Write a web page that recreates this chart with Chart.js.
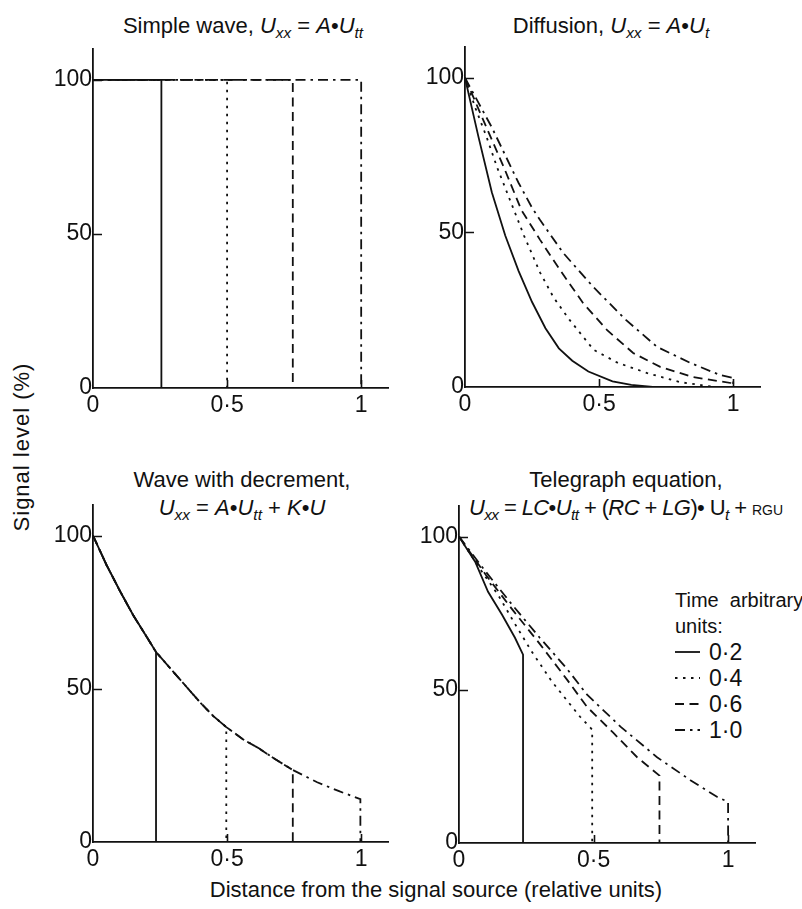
<!DOCTYPE html>
<html>
<head>
<meta charset="utf-8">
<script src="https://cdn.jsdelivr.net/npm/chart.js@4.4.1/dist/chart.umd.min.js"></script>
<style>
  body { margin: 0; background: #fff; }
  #page { position: relative; width: 802px; height: 909px; overflow: hidden;
          font-family: "Liberation Sans", Arial, sans-serif; color: #111; }
  #page canvas { position: absolute; }
  .txt { position: absolute; font-size: 22px; line-height: 28px; white-space: nowrap; }
  .ctr { transform: translateX(-50%); text-align: center; }
  .txt sub { font-size: 70%; vertical-align: -0.32em; line-height: 0; }
  .tight { letter-spacing: -0.6px; }
  .sc { font-size: 14px; letter-spacing: 0; }
  #ylab { left: 22px; top: 447px; transform: translate(-50%, -50%) rotate(-90deg); letter-spacing: 1px; }
  #legend { left: 675px; top: 587px; font-size: 20px; line-height: 26px; }
  #legend .row { display: flex; align-items: center; }
  #legend .num { font-size: 23px; margin-left: 9px; }
</style>
</head>
<body>
<div id="page">
  <div class="txt ctr" style="left:243px; top:12px;">Simple wave, <i>U<sub>xx</sub></i> = <i>A</i>•<i>U<sub>tt</sub></i></div>
  <div class="txt ctr" style="left:611px; top:12px;">Diffusion, <i>U<sub>xx</sub></i> = <i>A</i>•<i>U<sub>t</sub></i></div>
  <div class="txt ctr" style="left:242px; top:466px;">Wave with decrement,<br><i>U<sub>xx</sub></i> = <i>A</i>•<i>U<sub>tt</sub></i> + <i>K</i>•<i>U</i></div>
  <div class="txt ctr" style="left:626px; top:466px;">Telegraph equation,<br><span class="tight"><i>U<sub>xx</sub></i> = <i>LC</i>•<i>U<sub>tt</sub></i> + (<i>RC</i> + <i>LG</i>)• U<sub><i>t</i></sub> + <span class="sc">RGU</span></span></div>
  <div class="txt" id="ylab">Signal level (%)</div>
  <div class="txt ctr" style="left:436px; top:876px;">Distance from the signal source (relative units)</div>
  <div class="txt" id="legend"></div>
</div>
<script>
// ---------- data ----------
const xTicks = [0, 0.5, 1];
const xTickLabels = ['0', '0·5', '1'];
const yTicks = [0, 50, 100];
const timeLabels = ['0·2', '0·4', '0·6', '1·0'];

// simple wave: flat front at 100 %, then a vertical drop
const waveLevel = 100;
const waveFront = [0.255, 0.5, 0.745, 1.0];

// diffusion
const diffX02 = [0, 0.05, 0.1, 0.15, 0.2, 0.25, 0.3, 0.35, 0.4, 0.46, 0.55, 0.62, 0.7];
const diffY02 = [100, 81, 63, 49, 37.5, 27.5, 19, 12.5, 8.5, 5, 1.8, 0.7, 0];
const diffX04 = [0, 0.04, 0.08, 0.12, 0.17, 0.22, 0.28, 0.33, 0.39, 0.48, 0.57, 0.68, 0.8, 0.93];
const diffY04 = [100, 90, 81, 71, 60, 49, 37, 29, 21.7, 12, 7.8, 4.5, 1.6, 0];
const diffX06 = [0, 0.05, 0.1, 0.15, 0.21, 0.28, 0.354, 0.44, 0.53, 0.627, 0.728, 0.85, 0.99, 1.0];
const diffY06 = [100, 90, 80, 70, 57.3, 47.6, 37.9, 27.2, 18.4, 11, 6.5, 3.2, 1.3, 0];
const diffX10 = [0, 0.05, 0.1, 0.15, 0.2, 0.25, 0.28, 0.366, 0.478, 0.6, 0.716, 0.84, 0.95, 1.0, 1.0];
const diffY10 = [100, 92, 84, 75, 66, 58, 54, 43.4, 32.4, 21.7, 13, 7.8, 3.9, 2.9, 0];

// wave with decrement: one shared envelope, each time stops at its front
const decX = [0, 0.05, 0.1, 0.15, 0.2, 0.235, 0.28, 0.325, 0.4, 0.45, 0.497, 0.56, 0.62, 0.68, 0.745, 0.836, 0.92, 0.997];
const decY = [100, 90.5, 82, 74, 67, 62, 57.5, 53, 45.5, 41, 37.5, 33.5, 30.5, 27, 23.5, 19.5, 16.5, 14];
const decFront = [0.235, 0.497, 0.745, 0.997];

// telegraph equation
const telX02 = [0, 0.06, 0.108, 0.16, 0.208, 0.238, 0.238];
const telY02 = [100, 91.8, 82, 74.5, 67, 61.5, 0];
const telX04 = [0, 0.07, 0.145, 0.208, 0.27, 0.346, 0.45, 0.495, 0.495];
const telY04 = [100, 90.5, 81, 71.5, 62.5, 52.6, 41.2, 37, 0];
const telX06 = [0, 0.1, 0.2, 0.3, 0.4, 0.475, 0.573, 0.662, 0.745, 0.745];
const telY06 = [100, 87.5, 76, 65, 53.5, 44.5, 36, 28, 22, 0];
const telX10 = [0, 0.1, 0.2, 0.3, 0.4, 0.475, 0.6, 0.736, 0.86, 0.96, 1.0, 1.0];
const telY10 = [100, 88.5, 77.5, 67, 57, 48.5, 38, 28, 20.5, 15, 13.4, 0];

// ---------- styling ----------
const INK = '#111';
const X_MAX = 1.1, Y_MAX = 110;
const dashes = [[], [2.5, 5.5], [9, 5.5], [10, 5, 2.5, 5]];
const LINE_W = 1.8;
const Y_W = 80, PAD_T = 20, PAD_R = 10, X_H = 45;
const tickFont = { family: '"Liberation Sans", Arial, sans-serif', size: 23 };

const pts = (xs, ys) => xs.map((x, i) => ({ x: x, y: ys[i] }));

const simpleSeries = waveFront.map(f => pts([0, f, f], [waveLevel, waveLevel, 0]));
const diffSeries = [pts(diffX02, diffY02), pts(diffX04, diffY04), pts(diffX06, diffY06), pts(diffX10, diffY10)];
const decSeries = decFront.map(f => {
  const n = decX.indexOf(f) + 1;
  return pts(decX.slice(0, n).concat([f]), decY.slice(0, n).concat([0]));
});
const telSeries = [pts(telX02, telY02), pts(telX04, telY04), pts(telX06, telY06), pts(telX10, telY10)];

// plot areas on the page (left, top, width, height)
const panels = [
  { left: 93,  top: 49,  width: 295, height: 339, series: simpleSeries },
  { left: 465, top: 47,  width: 295, height: 340, series: diffSeries },
  { left: 93,  top: 505, width: 295, height: 337, series: decSeries },
  { left: 459, top: 506, width: 296, height: 337, series: telSeries }
];

// short tick marks pointing into the plot
const innerTicks = {
  id: 'innerTicks',
  afterDraw(chart) {
    const { ctx, chartArea: a, scales: { x, y } } = chart;
    ctx.save();
    ctx.strokeStyle = INK;
    ctx.lineWidth = 1.6;
    ctx.beginPath();
    yTicks.filter(v => v > 0).forEach(v => {
      const py = Math.round(y.getPixelForValue(v)) + 0.5;
      ctx.moveTo(a.left, py); ctx.lineTo(a.left + 9, py);
    });
    xTicks.filter(v => v > 0).forEach(v => {
      const px = Math.round(x.getPixelForValue(v)) + 0.5;
      ctx.moveTo(px, a.bottom); ctx.lineTo(px, a.bottom - 8);
    });
    ctx.stroke();
    ctx.restore();
  }
};

const page = document.getElementById('page');

panels.forEach(p => {
  const cv = document.createElement('canvas');
  cv.width = Y_W + p.width + PAD_R;
  cv.height = PAD_T + p.height + X_H;
  cv.style.left = (p.left - Y_W) + 'px';
  cv.style.top = (p.top - PAD_T) + 'px';
  page.appendChild(cv);

  new Chart(cv, {
    type: 'scatter',
    data: {
      datasets: p.series.map((d, i) => ({
        label: timeLabels[i],
        data: d,
        showLine: true,
        borderColor: INK,
        borderWidth: LINE_W,
        borderDash: dashes[i],
        pointRadius: 0,
        tension: 0,
        fill: false
      }))
    },
    options: {
      responsive: false,
      animation: false,
      devicePixelRatio: 1,
      layout: { padding: { left: 0, top: PAD_T, right: PAD_R, bottom: 0 } },
      plugins: { legend: { display: false }, tooltip: { enabled: false } },
      scales: {
        x: {
          type: 'linear', min: 0, max: X_MAX,
          afterFit: s => { s.height = X_H; },
          afterBuildTicks: s => { s.ticks = xTicks.map(v => ({ value: v })); },
          grid: { display: false, drawTicks: false },
          border: { display: true, color: INK, width: 1.8 },
          ticks: { color: INK, font: tickFont, padding: 4, maxRotation: 0,
                   callback: (v, i) => xTickLabels[i] }
        },
        y: {
          type: 'linear', min: 0, max: Y_MAX,
          afterFit: s => { s.width = Y_W; },
          afterBuildTicks: s => { s.ticks = yTicks.map(v => ({ value: v })); },
          grid: { display: false, drawTicks: false },
          border: { display: true, color: INK, width: 1.8 },
          ticks: { color: INK, font: tickFont, padding: 1 }
        }
      }
    },
    plugins: [innerTicks]
  });
});

// legend for the telegraph panel
const legendDash = ['', '2.5 5.5', '9 5.5', '10 5 2.5 5'];
const legend = document.getElementById('legend');
legend.innerHTML = '<div>Time&nbsp; arbitrary</div><div>units:</div>' +
  timeLabels.map((t, i) =>
    '<div class="row"><svg width="25" height="10"><line x1="0" y1="5" x2="25" y2="5" stroke="' + INK +
    '" stroke-width="1.8" stroke-dasharray="' + legendDash[i] + '"/></svg><span class="num">' + t + '</span></div>'
  ).join('');
</script>
</body>
</html>
